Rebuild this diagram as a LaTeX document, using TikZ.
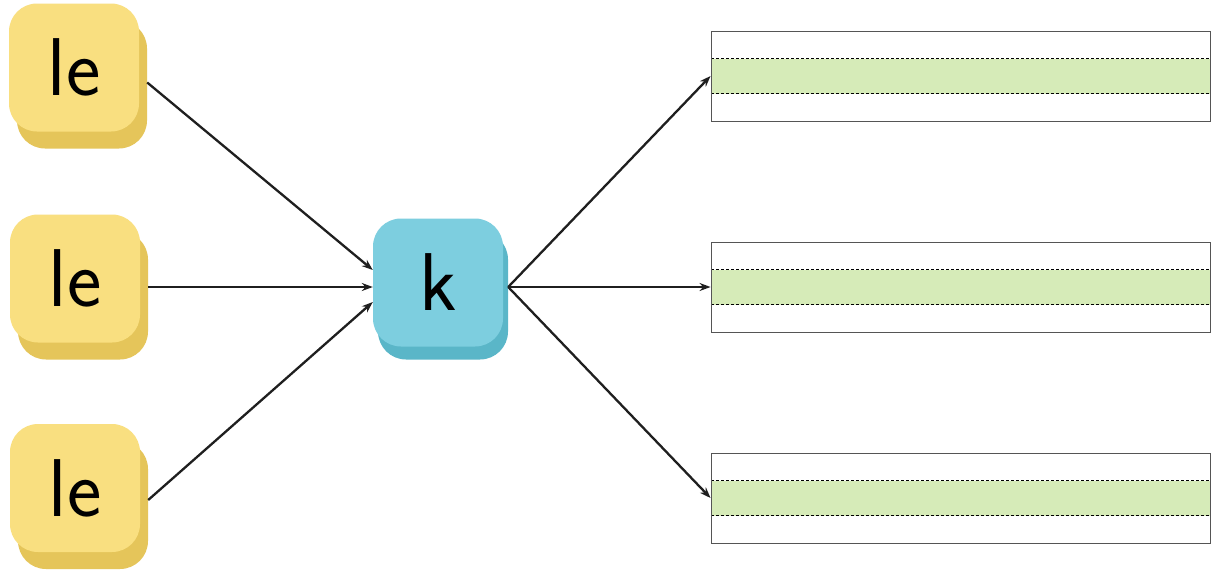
\documentclass[tikz,border=0pt]{standalone}
\usetikzlibrary{arrows.meta,shadows}
\definecolor{ylw}{HTML}{F9DF80}
\definecolor{ylwd}{HTML}{E5C55A}
\definecolor{blu}{HTML}{7DCEDF}
\definecolor{blud}{HTML}{5AB6C8}
\definecolor{grn}{HTML}{D6EBB8}
\definecolor{frame}{HTML}{555555}
\tikzset{
  tile/.style={rounded corners=28pt, minimum width=130pt, minimum height=128pt,
    inner sep=0pt, font=\sffamily\fontsize{82}{82}\selectfont},
  ytile/.style={tile, fill=ylw, drop shadow={shadow xshift=8pt, shadow yshift=-17pt, opacity=1, fill=ylwd}},
  btile/.style={tile, fill=blu, drop shadow={shadow xshift=5pt, shadow yshift=-13pt, opacity=1, fill=blud}},
  wbox/.style={draw=frame, line width=0.9pt, minimum width=499pt, minimum height=90pt, inner sep=0pt},
  band/.style={fill=grn, minimum width=498pt, minimum height=35pt, inner sep=0pt},
  dline/.style={draw=black, line width=0.7pt, dash pattern=on 3pt off 2pt},
  arr/.style={draw=black!88, line width=2.3pt, -{Stealth[length=11pt,width=8pt]}}
}
\begin{document}
\begin{tikzpicture}[x=1pt,y=-1pt]
\useasboundingbox (0,0) rectangle (1212,576);
\fill[white] (0,0) rectangle (1212,576);

\node[ytile] (y1) at (74,67.5) {le};
\node[ytile] (y2) at (75,278.5) {le};
\node[ytile] (y3) at (75,488) {le};
\node[btile] (k) at (438,282.5) {k};

\foreach \n/\yy in {1/76,2/287,3/498}{
  \node[band] (b\n) at (960.5,\yy) {};
  \draw[dline] (b\n.north west) -- (b\n.north east);
  \draw[dline] (b\n.south west) -- (b\n.south east);
  \node[wbox] (r\n) at (960.5,\yy) {};
}

\draw[arr] ([xshift=8pt,yshift=-15pt]y1.east) -- ([yshift=12.5pt]k.west);
\draw[arr] ([xshift=8pt,yshift=-8.5pt]y2.east) -- ([yshift=-4.5pt]k.west);
\draw[arr] ([xshift=8pt,yshift=-12pt]y3.east) -- ([yshift=-19.5pt]k.west);

\draw[arr] ([xshift=5pt,yshift=-4.5pt]k.east) -- (r1.west);
\draw[arr] ([xshift=5pt,yshift=-4.5pt]k.east) -- (r2.west);
\draw[arr] ([xshift=5pt,yshift=-4.5pt]k.east) -- (r3.west);
\end{tikzpicture}
\end{document}
